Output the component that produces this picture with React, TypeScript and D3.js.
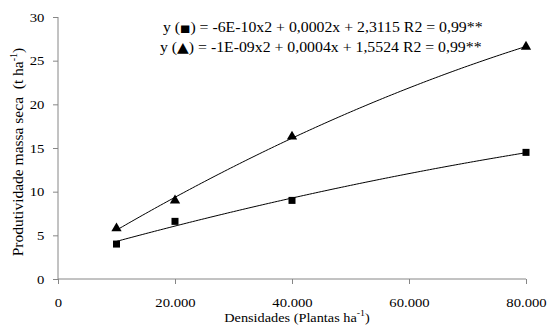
import React, { useEffect, useRef } from 'react';
import * as d3 from 'd3';

// densities (plants/ha)
const densities = [10000, 20000, 40000, 80000];
// dry mass yield, t/ha
const squareValues = [4.0, 6.6, 9.0, 14.5];
const triangleValues = [5.8, 9.0, 16.3, 26.6];

const xTicks = [0, 20000, 40000, 60000, 80000];
const yTicks = [0, 5, 10, 15, 20, 25, 30];

const eqSquare = ') = -6E-10x2 + 0,0002x + 2,3115 R2 = 0,99**';
const eqTriangle = ') = -1E-09x2 + 0,0004x + 1,5524 R2 = 0,99**';

// least squares fit y = a x^2 + b x + c (the Excel trendline)
function quadFit(xs: number[], ys: number[]) {
  const s = (f: (x: number, y: number) => number) => d3.sum(xs, (x, i) => f(x / 1e4, ys[i]));
  const n = xs.length;
  const S1 = s(x => x), S2 = s(x => x * x), S3 = s(x => x ** 3), S4 = s(x => x ** 4);
  const T0 = s((x, y) => y), T1 = s((x, y) => x * y), T2 = s((x, y) => x * x * y);
  const M = [
    [S4, S3, S2, T2],
    [S3, S2, S1, T1],
    [S2, S1, n, T0],
  ];
  for (let i = 0; i < 3; i++) {
    for (let j = i + 1; j < 3; j++) {
      const f = M[j][i] / M[i][i];
      for (let k = i; k < 4; k++) M[j][k] -= f * M[i][k];
    }
  }
  const c = M[2][3] / M[2][2];
  const b = (M[1][3] - M[1][2] * c) / M[1][1];
  const a = (M[0][3] - M[0][2] * c - M[0][1] * b) / M[0][0];
  return (x: number) => a * (x / 1e4) ** 2 + b * (x / 1e4) + c;
}

export default function App() {
  const svgRef = useRef<SVGSVGElement>(null);

  useEffect(() => {
    const width = 549;
    const height = 329;
    const margin = { top: 17, right: 23, bottom: 50, left: 58 };
    const innerWidth = width - margin.left - margin.right;
    const innerHeight = height - margin.top - margin.bottom;
    const font = '"Liberation Serif", "Times New Roman", serif';
    const axisColor = '#868686';
    // the source picture is a bit stretched sideways
    const stretch = 1.13;

    const svg = d3.select(svgRef.current);
    svg.selectAll('*').remove();

    const x = d3.scaleLinear().domain([0, 80000]).range([0, innerWidth]);
    const y = d3.scaleLinear().domain([0, 30]).range([innerHeight, 0]);

    const g = svg.append('g').attr('transform', `translate(${margin.left},${margin.top})`);

    // axes
    const yAxis = g.append('g')
      .call(d3.axisLeft(y).tickValues(yTicks).tickSize(5).tickPadding(7));
    const xAxis = g.append('g')
      .attr('transform', `translate(0,${innerHeight})`)
      .call(d3.axisBottom(x).tickValues(xTicks).tickSize(5).tickPadding(14)
        .tickFormat(d => (+d === 0 ? '0' : d3.format(',')(+d).replace(/,/g, '.'))));
    [yAxis, xAxis].forEach(a => {
      a.attr('font-family', font).attr('font-size', 13);
      a.selectAll('path, line').attr('stroke', axisColor);
      a.selectAll('text')
        .attr('fill', '#000')
        .attr('transform', `scale(${stretch},1)`);
    });
    yAxis.select('.domain').attr('d', `M0,${innerHeight}V0`);
    xAxis.select('.domain').attr('d', `M0,0H${innerWidth}`);

    // trend lines
    const xs = d3.range(10000, 80001, 500);
    const line = d3.line<number>().x(d => x(d));
    [squareValues, triangleValues].forEach(vals => {
      const f = quadFit(densities, vals);
      g.append('path')
        .datum(xs)
        .attr('d', line.y(d => y(f(d))))
        .attr('fill', 'none')
        .attr('stroke', '#000')
        .attr('stroke-width', 1);
    });

    // markers
    const sq = 7;
    g.selectAll('.sq')
      .data(squareValues)
      .enter()
      .append('rect')
      .attr('x', (d, i) => x(densities[i]) - sq / 2)
      .attr('y', d => y(d) - sq / 2)
      .attr('width', sq)
      .attr('height', sq)
      .attr('fill', '#000');

    const tri = d3.symbol().type(d3.symbolTriangle).size(46);
    g.selectAll('.tri')
      .data(triangleValues)
      .enter()
      .append('path')
      .attr('transform', (d, i) => `translate(${x(densities[i])},${y(d)})`)
      .attr('d', tri())
      .attr('fill', '#000');

    // equations
    const eq = (yy: number, xx: number, marker: 'sq' | 'tri', txt: string) => {
      const t = g.append('text')
        .attr('transform', `translate(${xx},${yy}) scale(1.09,1)`)
        .attr('font-family', font)
        .attr('font-size', 14.5)
        .attr('fill', '#000')
        .attr('xml:space', 'preserve');
      t.append('tspan').text('y (');
      t.append('tspan')
        .attr('font-family', '"DejaVu Sans", sans-serif')
        .attr('font-size', marker === 'sq' ? 10 : 14)
        .text(marker === 'sq' ? '■' : '▲');
      t.append('tspan').text(txt);
    };
    eq(15, 105, 'sq', eqSquare);
    eq(35, 102, 'tri', eqTriangle);

    // axis titles
    const xt = svg.append('text')
      .attr('transform', `translate(${margin.left + innerWidth / 2 + 5},322) scale(1.1,1)`)
      .attr('text-anchor', 'middle')
      .attr('font-family', font)
      .attr('font-size', 13)
      .attr('fill', '#000');
    xt.append('tspan').text('Densidades (Plantas ha');
    xt.append('tspan').attr('font-size', 9).attr('dy', -6).text('-1');
    xt.append('tspan').attr('dy', 6).text(')');

    const yt = svg.append('text')
      .attr('transform', `translate(23,152) rotate(-90)`)
      .attr('text-anchor', 'middle')
      .attr('font-family', font)
      .attr('font-size', 15.5)
      .attr('fill', '#000')
      .attr('xml:space', 'preserve');
    yt.append('tspan').text('Produtividade massa seca  (t ha');
    yt.append('tspan').attr('font-size', 10).attr('dy', -6).text('-1');
    yt.append('tspan').attr('dy', 6).text(')');
  }, []);

  return (
    <div style={{ position: 'absolute', left: 0, top: 0 }}>
      <svg ref={svgRef} width={549} height={329} style={{ display: 'block', background: '#fff' }} />
    </div>
  );
}
